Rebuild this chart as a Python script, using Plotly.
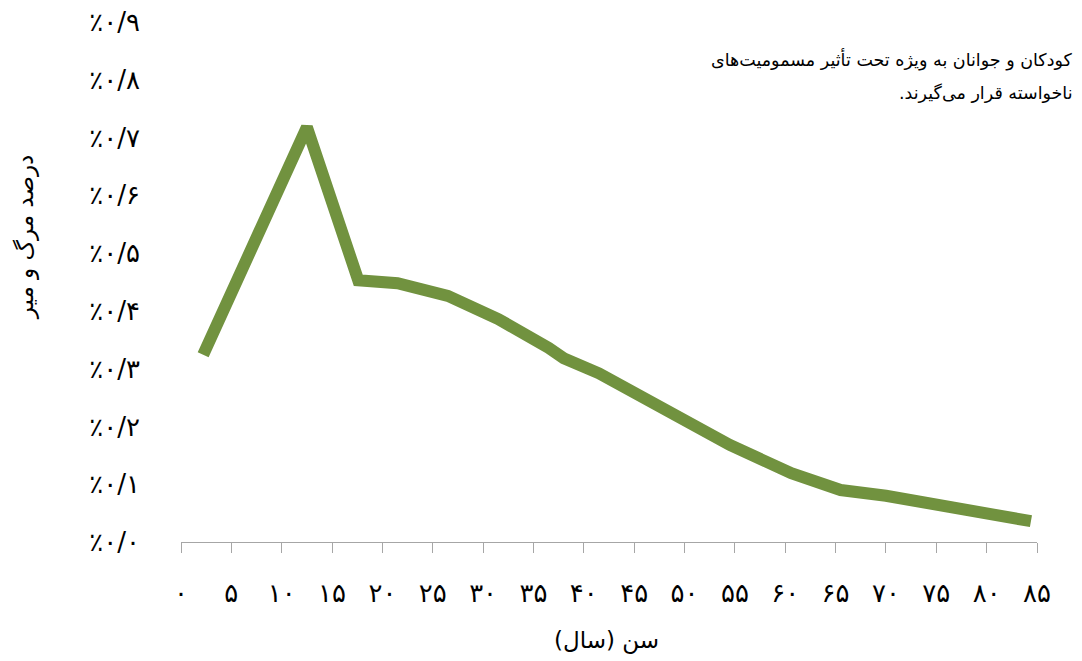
import plotly.graph_objects as go

# Data (age in years, mortality share in %)
age = [2.2, 12.5, 17.6, 21.5, 26.5, 31.5, 36.5, 38.0, 41.5, 44.5, 50.0, 54.5, 60.6, 65.5, 70.0, 74.2, 80.0, 84.4]
pct = [0.324, 0.718, 0.453, 0.448, 0.426, 0.386, 0.336, 0.318, 0.292, 0.263, 0.208, 0.168, 0.119, 0.090, 0.080, 0.067, 0.052, 0.036]

x_ticks = list(range(0, 90, 5))
x_labels = ["۰", "۵", "۱۰", "۱۵", "۲۰", "۲۵", "۳۰", "۳۵", "۴۰", "۴۵",
            "۵۰", "۵۵", "۶۰", "۶۵", "۷۰", "۷۵", "۸۰", "۸۵"]
y_ticks = [0, 0.1, 0.2, 0.3, 0.4, 0.5, 0.6, 0.7, 0.8, 0.9]
y_labels = ["٪۰/۰", "٪۰/۱", "٪۰/۲", "٪۰/۳", "٪۰/۴", "٪۰/۵", "٪۰/۶", "٪۰/۷", "٪۰/۸", "٪۰/۹"]

x_title = "سن (سال)"
y_title = "درصد مرگ و میر"
note_lines = ["کودکان و جوانان به ویژه تحت تأثیر مسمومیت‌های",
              "ناخواسته قرار می‌گیرند.\u200f"]

FONT = "DejaVu Sans"

fig = go.Figure()
fig.add_trace(go.Scatter(
    x=age, y=pct, mode="lines",
    line=dict(color="#71923F", width=12),
    hoverinfo="skip", showlegend=False,
))

fig.update_layout(
    width=1082, height=661,
    margin=dict(l=173, r=53, t=14, b=127, autoexpand=False),
    paper_bgcolor="white", plot_bgcolor="white",
    font=dict(family=FONT, color="black", size=20),
    xaxis=dict(
        range=[0, 85], tickvals=x_ticks, ticktext=x_labels,
        showline=True, linecolor="#A6A6A6", linewidth=1,
        ticks="outside", ticklen=10, tickcolor="#A6A6A6", tickwidth=1,
        showgrid=False, zeroline=False, ticklabelstandoff=18,
        tickfont=dict(size=26), ticklabeloverflow="allow", automargin=False,
    ),
    yaxis=dict(
        range=[0, 0.9], tickvals=y_ticks, ticktext=y_labels,
        showline=False, showgrid=False, zeroline=False, ticks="",
        ticklabelstandoff=40, tickfont=dict(size=26),
        ticklabeloverflow="allow", automargin=False,
    ),
    annotations=[
        dict(text=x_title, xref="paper", yref="paper", x=0.4965, y=-0.1885,
             showarrow=False, font=dict(size=23), xanchor="center", yanchor="middle"),
        dict(text=y_title, xref="paper", yref="paper", x=-0.182, y=0.5865,
             showarrow=False, textangle=-90, font=dict(size=23),
             xanchor="center", yanchor="middle"),
        dict(text=note_lines[0], xref="paper", yref="paper", x=1.0444, y=(542 - 60) / 520,
             showarrow=False, align="right", xanchor="right", yanchor="middle",
             font=dict(size=17.5)),
        dict(text=note_lines[1], xref="paper", yref="paper", x=1.0444, y=(542 - 93) / 520,
             showarrow=False, align="right", xanchor="right", yanchor="middle",
             font=dict(size=17.5)),
    ],
)

fig.write_html("out.html")
